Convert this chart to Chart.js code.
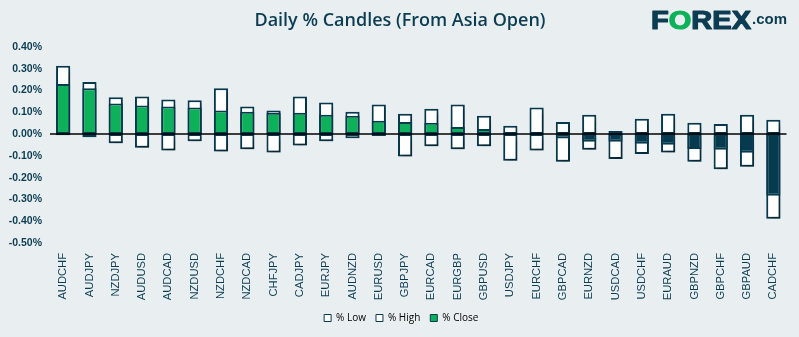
<!DOCTYPE html>
<html>
<head>
<meta charset="utf-8">
<script src="https://cdn.jsdelivr.net/npm/chart.js@4.4.1/dist/chart.umd.min.js"></script>
<style>
  html, body { margin: 0; padding: 0; background: #e9eff0; }
  #wrap { position: relative; width: 799px; height: 337px; }
</style>
</head>
<body>
<div id="wrap"><canvas id="c" width="799" height="337"></canvas></div>
<script>
// Currency pairs, sorted by close change
const pairs = ['AUDCHF','AUDJPY','NZDJPY','AUDUSD','AUDCAD','NZDUSD','NZDCHF','NZDCAD','CHFJPY','CADJPY',
  'EURJPY','AUDNZD','EURUSD','GBPJPY','EURCAD','EURGBP','GBPUSD','USDJPY','EURCHF','GBPCAD',
  'EURNZD','USDCAD','USDCHF','EURAUD','GBPNZD','GBPCHF','GBPAUD','CADCHF'];

// % move from the Asia open
const highs = [0.314, 0.239, 0.169, 0.173, 0.159, 0.155, 0.211, 0.127, 0.108, 0.173,
  0.145, 0.103, 0.136, 0.094, 0.117, 0.136, 0.084, 0.038, 0.122, 0.056,
  0.089, 0.014, 0.070, 0.094, 0.052, 0.047, 0.089, 0.066];
const lows = [-0.005, -0.014, -0.042, -0.063, -0.075, -0.033, -0.080, -0.070, -0.084, -0.052,
  -0.033, -0.019, -0.009, -0.103, -0.056, -0.070, -0.056, -0.122, -0.075, -0.127,
  -0.072, -0.114, -0.091, -0.084, -0.127, -0.161, -0.150, -0.389];
const closes = [0.230, 0.211, 0.141, 0.131, 0.127, 0.122, 0.108, 0.103, 0.098, 0.098,
  0.089, 0.084, 0.061, 0.056, 0.052, 0.033, 0.023, 0.007, 0.000, -0.020,
  -0.035, -0.035, -0.044, -0.049, -0.068, -0.072, -0.086, -0.283];

const yTicks = [0.4, 0.3, 0.2, 0.1, 0, -0.1, -0.2, -0.3, -0.4, -0.5];

const NAVY = '#0b3c52';
const EDGE = '#083a4f';
const GREEN = '#0db15a';
const DOWN = '#053a4f';
const BG = '#e9eff0';

// Background, title and logo
const decor = {
  id: 'decor',
  beforeDraw(chart) {
    const ctx = chart.ctx;
    ctx.save();
    ctx.fillStyle = BG;
    ctx.fillRect(0, 0, chart.width, chart.height);

    ctx.fillStyle = NAVY;
    ctx.font = '600 18px "Open Sans"';
    ctx.textAlign = 'center';
    ctx.textBaseline = 'alphabetic';
    ctx.fillText('Daily % Candles (From Asia Open)', 400, 26);

    // FOREX.com wordmark
    ctx.textAlign = 'left';
    ctx.font = 'bold 25px "Liberation Sans"';
    const parts = [['F', NAVY], ['O', GREEN], ['REX', NAVY]];
    const total = parts.reduce((s, p) => s + ctx.measureText(p[0]).width, 0);
    const sx = 100 / total;
    ctx.save();
    ctx.translate(651, 29);
    ctx.scale(sx, 1);
    ctx.lineWidth = 1.2;
    ctx.lineJoin = 'round';
    let x = 0;
    for (const [t, col] of parts) {
      ctx.fillStyle = col;
      ctx.strokeStyle = col;
      ctx.fillText(t, x, 0);
      ctx.strokeText(t, x, 0);
      x += ctx.measureText(t).width;
    }
    ctx.restore();
    ctx.fillStyle = NAVY;
    ctx.font = 'bold 15px "Liberation Sans"';
    ctx.fillText('.com', 752, 24);
    ctx.restore();
  }
};

// Soft drop shadow under the candle bodies
const shadow = {
  id: 'shadow',
  beforeDatasetDraw(chart, args) {
    if (args.index === 2) return;
    const ctx = chart.ctx;
    ctx.save();
    ctx.shadowColor = 'rgba(0,0,0,0.35)';
    ctx.shadowBlur = 5;
    ctx.shadowOffsetX = 2;
    ctx.shadowOffsetY = 4;
  },
  afterDatasetDraw(chart, args) {
    if (args.index === 2) return;
    chart.ctx.restore();
  }
};

// Zero line across the plot
const zeroLine = {
  id: 'zeroLine',
  afterDatasetsDraw(chart) {
    const ctx = chart.ctx, a = chart.chartArea;
    const y0 = chart.scales.y.getPixelForValue(0);
    ctx.save();
    ctx.strokeStyle = '#000';
    ctx.lineWidth = 1.5;
    ctx.beginPath();
    ctx.moveTo(a.left, y0);
    ctx.lineTo(a.right, y0);
    ctx.stroke();
    ctx.restore();
  }
};

// Center the legend under the whole canvas rather than the padded box
const legendCenter = {
  id: 'legendCenter',
  afterLayout(chart) {
    if (chart.legend) chart.legend.left += 16;
  }
};

const barBase = {
  borderColor: EDGE,
  borderWidth: 2,
  borderSkipped: false,
  grouped: false,
  categoryPercentage: 1,
  barPercentage: 0.54,
  order: 1
};

new Chart(document.getElementById('c'), {
  type: 'bar',
  data: {
    labels: pairs,
    datasets: [
      Object.assign({}, barBase, {
        label: '% Low',
        data: lows.map(v => [v, 0]),
        backgroundColor: '#ffffff'
      }),
      Object.assign({}, barBase, {
        label: '% High',
        data: highs.map(v => [0, v]),
        backgroundColor: '#ffffff'
      }),
      Object.assign({}, barBase, {
        label: '% Close',
        data: closes.map(v => [0, v]),
        backgroundColor: closes.map(v => v >= 0 ? GREEN : DOWN),
        order: 0
      })
    ]
  },
  options: {
    responsive: false,
    animation: false,
    layout: { padding: { top: 47, left: 0, right: 12.5, bottom: 4 } },
    scales: {
      x: {
        grid: { display: false, drawTicks: false },
        border: { display: false },
        ticks: {
          autoSkip: false,
          minRotation: 90,
          maxRotation: 90,
          padding: 10,
          color: NAVY,
          font: { family: 'Liberation Sans', size: 11.2 }
        },
        afterFit(scale) { scale.height = 60; }
      },
      y: {
        min: -0.5,
        max: 0.4,
        grid: { display: false, drawTicks: false },
        border: { display: false },
        afterBuildTicks(scale) { scale.ticks = yTicks.map(v => ({ value: v })); },
        ticks: {
          padding: 8,
          color: NAVY,
          font: { family: 'Liberation Sans', size: 10.5, weight: 'bold' },
          callback: v => (Math.abs(v) < 1e-9 ? 0 : v).toFixed(2) + '%'
        },
        afterFit(scale) { scale.width = 50; }
      }
    },
    plugins: {
      tooltip: { enabled: false },
      legend: {
        position: 'bottom',
        labels: {
          boxWidth: 7,
          boxHeight: 7,
          padding: 10,
          color: '#3d5663',
          font: { family: 'Open Sans', size: 10 },
          generateLabels() {
            return [
              { text: '% Low', fillStyle: '#ffffff', strokeStyle: EDGE, lineWidth: 1, datasetIndex: 0 },
              { text: '% High', fillStyle: '#ffffff', strokeStyle: EDGE, lineWidth: 1, datasetIndex: 1 },
              { text: '% Close', fillStyle: GREEN, strokeStyle: EDGE, lineWidth: 1, datasetIndex: 2 }
            ];
          }
        }
      }
    }
  },
  plugins: [decor, shadow, zeroLine, legendCenter]
});
</script>
</body>
</html>
